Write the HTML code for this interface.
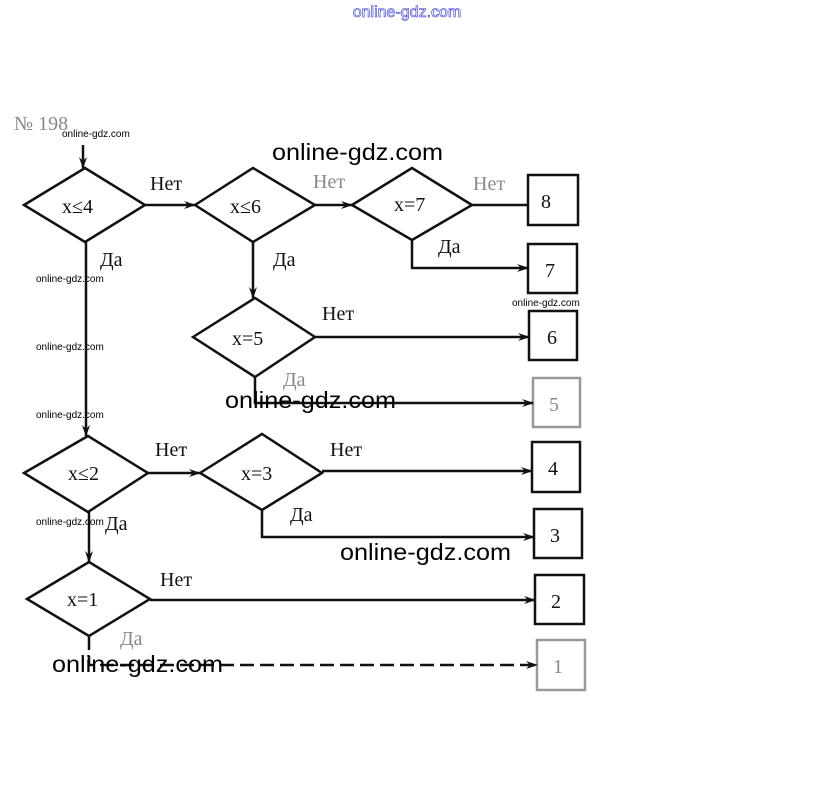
<!DOCTYPE html>
<html><head><meta charset="utf-8"><style>
html,body{margin:0;padding:0;background:#fff;width:815px;height:795px;overflow:hidden}
svg{display:block}
.t{font-family:"Liberation Serif",serif;font-size:20px;fill:#111}
.g{font-family:"Liberation Serif",serif;font-size:20px;fill:#888}
.w{font-family:"Liberation Sans",sans-serif;font-size:23px;fill:#000}
.s{font-family:"Liberation Sans",sans-serif;font-size:10px;fill:#000}
</style></head><body>
<svg width="815" height="795" viewBox="0 0 815 795">
<defs><marker id="a" markerWidth="12" markerHeight="10" refX="11" refY="5" orient="auto" markerUnits="userSpaceOnUse"><path d="M0,1 L12,5 L0,9 L4,5 z" fill="#111"/></marker></defs>
<text x="407" y="17" text-anchor="middle" font-family="Liberation Sans,sans-serif" font-size="16" fill="none" stroke="#3333dd" stroke-width="0.6">online-gdz.com</text>
<text x="14" y="130" class="g" font-size="20">№ 198</text>
<g fill="none" stroke="#111" stroke-width="2.5">
<line x1="83" y1="145" x2="83" y2="168" marker-end="url(#a)"/>
<polygon points="24,205 85,168 145,205 85,242"/>
<polygon points="195,205 253,168 315,205 253,242"/>
<polygon points="352,205 412,168 472,205 412,240"/>
<polygon points="193,337 255,298 315,337 255,377"/>
<polygon points="24,473 88,436 148,473 88,512"/>
<polygon points="200,473 262,434 322,473 262,510"/>
<polygon points="27,599 89,562 150,599 89,636"/>
<rect x="528" y="175" width="50" height="50"/>
<rect x="528" y="244" width="49" height="49"/>
<rect x="529" y="311" width="48" height="49"/>
<rect x="533" y="378" width="47" height="49" stroke="#999"/>
<rect x="532" y="442" width="48" height="50"/>
<rect x="534" y="509" width="48" height="49"/>
<rect x="535" y="575" width="49" height="49"/>
<rect x="537" y="640" width="48" height="50" stroke="#999"/>
<line x1="145" y1="205" x2="195" y2="205" marker-end="url(#a)"/>
<line x1="315" y1="205" x2="352" y2="205" marker-end="url(#a)"/>
<line x1="472" y1="205" x2="528" y2="205"/>
<polyline points="412,240 412,268 528,268" marker-end="url(#a)"/>
<line x1="253" y1="242" x2="253" y2="298" marker-end="url(#a)"/>
<line x1="315" y1="337" x2="529" y2="337" marker-end="url(#a)"/>
<polyline points="255,377 255,403 533,403" marker-end="url(#a)"/>
<line x1="86" y1="242" x2="86" y2="436" marker-end="url(#a)"/>
<line x1="148" y1="473" x2="200" y2="473" marker-end="url(#a)"/>
<line x1="322" y1="471" x2="532" y2="471" marker-end="url(#a)"/>
<polyline points="262,510 262,537 534,537" marker-end="url(#a)"/>
<line x1="89" y1="512" x2="89" y2="562" marker-end="url(#a)"/>
<line x1="150" y1="600" x2="535" y2="600" marker-end="url(#a)"/>
<polyline points="89,636 89,665 537,665" stroke-dasharray="14,6" marker-end="url(#a)"/>
</g>
<g class="t">
<text x="62" y="213">x≤4</text><text x="230" y="213">x≤6</text><text x="394" y="211">x=7</text>
<text x="232" y="345">x=5</text><text x="68" y="480">x≤2</text><text x="241" y="480">x=3</text><text x="67" y="606">x=1</text>
<text x="541" y="208">8</text><text x="545" y="277">7</text><text x="547" y="344">6</text><text x="549" y="411" class="g">5</text>
<text x="548" y="475">4</text><text x="550" y="542">3</text><text x="551" y="608">2</text><text x="553" y="673" class="g">1</text>
<text x="150" y="190">Нет</text><text x="313" y="188" class="g">Нет</text><text x="473" y="190" class="g">Нет</text>
<text x="100" y="266">Да</text><text x="273" y="266">Да</text><text x="438" y="253">Да</text>
<text x="322" y="320">Нет</text><text x="283" y="386" class="g">Да</text>
<text x="155" y="456">Нет</text><text x="330" y="456">Нет</text><text x="290" y="521">Да</text>
<text x="105" y="530">Да</text><text x="160" y="586">Нет</text><text x="120" y="645" class="g">Да</text>
</g>
<g class="w">
<text x="272" y="160" textLength="171" lengthAdjust="spacingAndGlyphs">online-gdz.com</text>
<text x="225" y="408" textLength="171" lengthAdjust="spacingAndGlyphs">online-gdz.com</text>
<text x="340" y="560" textLength="171" lengthAdjust="spacingAndGlyphs">online-gdz.com</text>
<text x="52" y="672" textLength="171" lengthAdjust="spacingAndGlyphs">online-gdz.com</text>
</g>
<g class="s">
<text x="62" y="137">online-gdz.com</text>
<text x="36" y="282">online-gdz.com</text>
<text x="36" y="350">online-gdz.com</text>
<text x="36" y="418">online-gdz.com</text>
<text x="36" y="525">online-gdz.com</text>
<text x="512" y="306">online-gdz.com</text>
</g>
</svg>
</body></html>
